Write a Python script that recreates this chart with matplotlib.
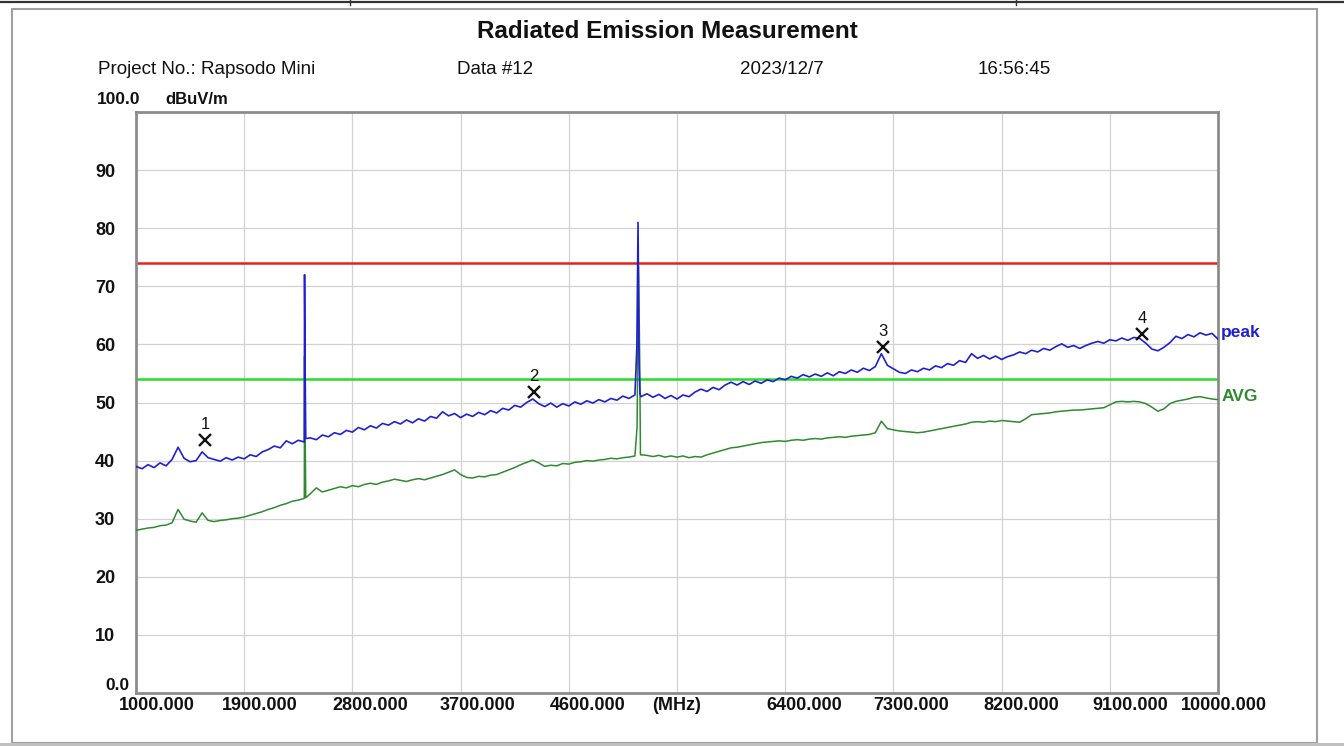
import numpy as np
import matplotlib
matplotlib.use('Agg')
import matplotlib.pyplot as plt
from matplotlib.transforms import ScaledTranslation
from matplotlib.lines import Line2D
from matplotlib.patches import Rectangle

plt.rcParams['font.family'] = ['Liberation Sans', 'DejaVu Sans']

# ---------------- data ----------------
title = "Radiated Emission Measurement"
header = ["Project No.: Rapsodo Mini", "Data #12", "2023/12/7", "16:56:45"]

freq_start, freq_stop, freq_step = 1000, 10000, 50

peak_base = [
    39.0, 38.6, 39.3, 38.8, 39.6, 39.1, 40.2, 42.3, 40.4, 39.8,
    40.0, 41.5, 40.5, 40.2, 39.9, 40.5, 40.1, 40.6, 40.3, 41.0,
    40.7, 41.5, 41.9, 42.5, 42.2, 43.4, 42.9, 43.5, 43.2, 43.9,
    43.6, 44.4, 44.1, 44.8, 44.5, 45.2, 44.9, 45.7, 45.3, 46.0,
    45.6, 46.4, 46.1, 46.7, 46.3, 47.0, 46.5, 47.2, 46.8, 47.6,
    47.3, 48.4, 47.7, 48.1, 47.4, 48.0, 47.6, 48.3, 47.9, 48.6,
    48.2, 49.0, 48.7, 49.5, 49.2, 50.0, 50.6, 49.8, 49.3, 49.9,
    49.2, 49.8, 49.4, 50.1, 49.7, 50.3, 49.9, 50.5, 50.1, 50.7,
    50.4, 51.1, 50.7, 51.3, 51.0, 51.5, 50.9, 51.4, 50.7, 51.2,
    50.6, 51.3, 51.0, 51.8, 52.3, 51.9, 52.6, 52.2, 53.0, 53.5,
    53.0, 53.6, 53.1, 53.7, 53.3, 53.9, 53.6, 54.2, 53.9, 54.5,
    54.2, 54.8, 54.4, 54.9, 54.5, 55.1, 54.6, 55.3, 55.0, 55.6,
    55.2, 55.9, 55.5, 56.2, 58.4, 56.4, 55.8, 55.2, 55.0, 55.6,
    55.3, 55.9, 55.6, 56.3, 56.0, 56.7, 56.4, 57.2, 56.9, 58.4,
    57.6, 58.1, 57.5, 58.0, 57.4, 57.9, 58.2, 58.7, 58.4, 59.0,
    58.7, 59.3, 59.0, 59.6, 60.1, 59.5, 59.8, 59.3, 59.8, 60.2,
    60.5, 60.2, 60.8, 60.6, 61.1, 60.7, 61.2, 61.0, 60.2, 59.2,
    58.9, 59.5, 60.3, 61.4, 61.0, 61.7, 61.3, 62.0, 61.6, 61.9,
    60.9,
]

avg_base = [
    28.0, 28.2, 28.4, 28.5, 28.8, 28.9, 29.3, 31.6, 29.9, 29.6,
    29.4, 31.0, 29.7, 29.5, 29.7, 29.8, 30.0, 30.1, 30.3, 30.6,
    30.9, 31.2, 31.6, 31.9, 32.3, 32.6, 33.0, 33.2, 33.5, 34.3,
    35.3, 34.6, 34.9, 35.2, 35.5, 35.3, 35.7, 35.5, 35.9, 36.1,
    35.9, 36.3, 36.5, 36.8, 36.6, 36.4, 36.7, 36.9, 36.7, 37.0,
    37.3, 37.6, 38.0, 38.4, 37.6, 37.1, 37.0, 37.3, 37.2, 37.5,
    37.6, 38.0, 38.4, 38.8, 39.3, 39.7, 40.1, 39.6, 39.0, 39.2,
    39.1, 39.5, 39.4, 39.7, 39.8, 40.0, 39.9, 40.1, 40.2, 40.4,
    40.3, 40.5, 40.6, 40.8, 41.0, 40.9, 40.7, 40.9, 40.6, 40.8,
    40.6, 40.8, 40.5, 40.7, 40.6, 41.0, 41.3, 41.6, 41.9, 42.2,
    42.3, 42.5, 42.7, 42.9, 43.1, 43.2, 43.3, 43.4, 43.3, 43.5,
    43.6, 43.5, 43.7, 43.8, 43.7, 43.9, 44.0, 44.1, 44.0, 44.2,
    44.3, 44.4, 44.5, 44.8, 46.8, 45.5, 45.3, 45.1, 45.0, 44.9,
    44.8, 44.9, 45.1, 45.3, 45.5, 45.7, 45.9, 46.1, 46.3, 46.6,
    46.7, 46.6, 46.8, 46.7, 46.9, 46.8, 46.7, 46.6, 47.2, 47.9,
    48.0, 48.1, 48.2, 48.4, 48.5, 48.6, 48.7, 48.7, 48.8, 48.9,
    49.0, 49.1, 49.6, 50.1, 50.2, 50.1, 50.2, 50.1, 49.8, 49.2,
    48.5, 48.9, 49.8, 50.2, 50.4, 50.6, 50.9, 51.0, 50.8, 50.6,
    50.5,
]

# narrow emissions (2.4 GHz and 5 GHz)
peak_spike_freq = [2402, 2406, 2412, 5166, 5176, 5184, 5192]
peak_spike_val = [72.0, 57.8, 43.8, 59.5, 81.0, 57.0, 51.5]
avg_spike_freq = [2402, 2406, 2412, 5168, 5180, 5190, 5196]
avg_spike_val = [58.0, 47.0, 33.6, 45.8, 73.5, 57.0, 41.0]

limit_peak = 74.0
limit_avg = 54.0

marker_freq = [1574, 4311, 7214, 9368]
marker_level = [43.5, 51.8, 59.6, 61.8]
marker_text = ["1", "2", "3", "4"]

x_ticks = [1000, 1900, 2800, 3700, 4600, 5500, 6400, 7300, 8200, 9100, 10000]
x_labels = ["1000.000", "1900.000", "2800.000", "3700.000", "4600.000", "(MHz)",
            "6400.000", "7300.000", "8200.000", "9100.000", "10000.000"]
y_ticks = [0, 10, 20, 30, 40, 50, 60, 70, 80, 90, 100]
y_labels = ["", "10", "20", "30", "40", "50", "60", "70", "80", "90", ""]

# ---------------- build traces ----------------
base_freq = np.arange(freq_start, freq_stop + 1, freq_step)
pf = np.concatenate([base_freq, peak_spike_freq])
pv = np.concatenate([peak_base, peak_spike_val])
o = np.argsort(pf, kind='stable')
pf, pv = pf[o], pv[o]
af = np.concatenate([base_freq, avg_spike_freq])
av = np.concatenate([avg_base, avg_spike_val])
o = np.argsort(af, kind='stable')
af, av = af[o], av[o]

# ---------------- figure ----------------
W, H = 1344, 746
fig = plt.figure(figsize=(W / 100, H / 100), dpi=100)
fig.patch.set_facecolor('white')

def fx(px):
    return px / W

def fy(py):
    return 1 - py / H

# page decorations
fig.add_artist(Line2D([0, 1], [fy(2), fy(2)], color='#333333', lw=1.6))
for xm in (350, 1016):
    fig.add_artist(Line2D([fx(xm), fx(xm)], [fy(0), fy(5)], color='#333333', lw=1.0))
fig.add_artist(Rectangle((fx(12), fy(743)), fx(1317) - fx(12), fy(9) - fy(743),
                         fill=False, ec='#a0a0a0', lw=1.5))
fig.add_artist(Rectangle((0, 0), 1, fy(743), fc='#c0c0c0', ec='none'))

fig.text(fx(667), fy(32), title, ha='center', va='center', fontsize=17.5, fontweight='bold', color='#111111')
for txt, xp in zip(header, (98, 457, 740, 978)):
    fig.text(fx(xp), fy(69), txt, ha='left', va='center', fontsize=13.5, color='#111111')

ax = fig.add_axes([fx(136), fy(693), fx(1218) - fx(136), fy(112) - fy(693)])
ax.set_xlim(freq_start, freq_stop)
ax.set_ylim(0, 100)
ax.set_xticks(x_ticks, x_labels)
ax.set_yticks(y_ticks, y_labels)
ax.grid(True, color='#d2d2d2', lw=0.9)
ax.set_axisbelow(True)
for s in ax.spines.values():
    s.set_color('#8c8c8c')
    s.set_linewidth(2.0)
ax.tick_params(axis='both', length=0, labelsize=13, colors='#111111')
ax.tick_params(axis='y', pad=15)
ax.tick_params(axis='x', pad=3)
for lab in ax.get_xticklabels() + ax.get_yticklabels():
    lab.set_fontweight('bold')
x_offsets = [21, 16, 18, 17, 19, 0, 19, 18, 20, 20, 6]
for lab, dx in zip(ax.get_xticklabels(), x_offsets):
    lab.set_transform(lab.get_transform() + ScaledTranslation(dx / 100, 0, fig.dpi_scale_trans))

fig.text(fx(130), fy(686), "0.0", ha='right', va='center', fontsize=12.5, fontweight='bold', color='#111111')
fig.text(fx(140), fy(100), "100.0", ha='right', va='center', fontsize=12.5, fontweight='bold', color='#111111')
fig.text(fx(165), fy(99), "dBuV/m", ha='left', va='center', fontsize=12, fontweight='bold', color='#111111')

# limit lines
ax.axhline(limit_peak, color='#e4231f', lw=1.8, zorder=2)
ax.axhline(limit_avg, color='#27dd27', lw=1.8, zorder=2)

# traces
ax.plot(af, av, color='#2f8a30', lw=1.1, zorder=3)
ax.plot(pf, pv, color='#2020d0', lw=1.2, zorder=4)

# markers
ax.plot(marker_freq, marker_level, ls='none', marker='x', ms=8, mew=1.7, color='#111111', zorder=5)
for f, v, t in zip(marker_freq, marker_level, marker_text):
    ax.annotate(t, (f, v), xytext=(0, 11), textcoords='offset points', ha='center', va='center',
                fontsize=12, color='#111111', zorder=6)

# trace names
ax.text(1.003, 62.0, "peak", transform=ax.get_yaxis_transform(), ha='left', va='center',
        fontsize=12.5, fontweight='bold', color='#2020d0', clip_on=False)
ax.text(1.003, 51.1, "AVG", transform=ax.get_yaxis_transform(), ha='left', va='center',
        fontsize=12.5, fontweight='bold', color='#2f8a30', clip_on=False)

fig.savefig('out.png', dpi=100)
